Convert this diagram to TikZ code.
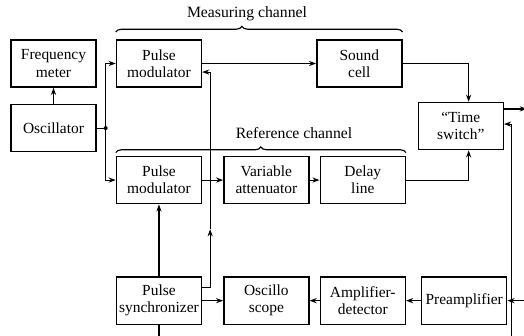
\documentclass[tikz,border=0pt]{standalone}
\usepackage{fontspec}
\setmainfont{Liberation Serif}
\usetikzlibrary{positioning,arrows.meta,calc,decorations.pathreplacing}

\begin{document}
\begin{tikzpicture}[x=0.7pt, y=-0.7pt,
  box/.style={draw, line width=1pt, minimum width=59.5pt, minimum height=33pt,
    inner sep=0.5pt, align=center, font=\fontsize{10.8}{12}\selectfont},
  arr/.style={-{Stealth[length=5pt,width=3.6pt]}, line width=0.8pt},
  wire/.style={line width=0.8pt},
  chbrace/.style={decorate, decoration={brace, amplitude=4pt, aspect=#1}, line width=0.8pt},
  lbl/.style={font=\fontsize{11}{12}\selectfont},
]
\useasboundingbox (0,0) rectangle (524,336);

% blocks
\node[box] (freq) at (53.5,63.5) {Frequency\\meter};
\node[box, below=11.2pt of freq] (osc) {Oscillator};
\node[box, right=13.3pt of freq] (pmA) {Pulse\\modulator};
\node[box, right=79.8pt of pmA] (sound) {Sound\\cell};
\node[box, below right=9.8pt and 10.5pt of sound] (tsw) {``Time\\switch''};
\node[box, below=47.6pt of pmA] (pmB) {Pulse\\modulator};
\node[box, right=14.7pt of pmB] (att) {Variable\\attenuator};
\node[box, right=7pt of att] (delay) {Delay\\line};
\node[box, below=50.4pt of pmB] (sync) {Pulse\\synchronizer};
\node[box, right=14.7pt of sync] (scope) {Oscillo\\scope};
\node[box, right=7pt of scope] (ampdet) {Amplifier-\\detector};
\node[box, right=10.5pt of ampdet] (preamp) {Preamplifier};

% channel braces
\draw[chbrace=0.44] ($(pmA.north west)+(0,5pt)$) -- ($(sound.north east)+(0,5pt)$);
\node[lbl] (meas) at (247,14) {Measuring channel};
\draw[chbrace=0.5] ($(pmB.north west)+(0,2.2pt)$) -- ($(delay.north east)+(0,2.2pt)$);
\node[lbl] (ref) at (294,133) {Reference channel};

% oscillator feeds both modulators
\coordinate (split) at ($(osc.east)+(6.3pt,0)$);
\draw[arr] (osc) -- (freq);
\draw[wire] (osc.east) -- (split);
\draw[arr] (split) |- (pmA.west);
\draw[arr] (split) |- (pmB.west);
\fill (split) circle (1.4pt);

% measuring path
\draw[arr] (pmA) -- (sound);
\draw[arr] (sound.east) -| ($(tsw.north)+(5.5pt,0)$);

% reference path
\draw[arr] (pmB) -- (att);
\draw[arr] (att) -- (delay);
\draw[arr] (delay.east) -| ($(tsw.south)+(5.5pt,0)$);

% synchronizer lines
\coordinate (trig) at ($(sync.north east)+(5.6pt,33pt)$);
\draw[arr] (sync) -- (pmB);
\draw[arr] ($(sync.north east)+(0,-7.7pt)$) -| (trig);
\draw[arr] (trig) |- ($(pmA.east)+(0,-6pt)$);
\draw[arr] (sync) -- (scope);
\draw[arr] (sync.south) -- ++(0,-8pt) -| ($(tsw.east)+(5.3pt,1.4pt)$) -- ($(tsw.east)+(0,1.4pt)$);

% output and echo input
\coordinate (out) at ($(tsw.north east)+(16pt,-5pt)$);
\coordinate (echo) at ($(preamp.east)+(16.5pt,0)$);
\draw[arr] (tsw.east |- out) -- (out);
\draw[arr] (echo) -- (preamp.east);
\draw[arr] (preamp) -- (ampdet);
\draw[arr] (ampdet) -- (scope);
\end{tikzpicture}
\end{document}
